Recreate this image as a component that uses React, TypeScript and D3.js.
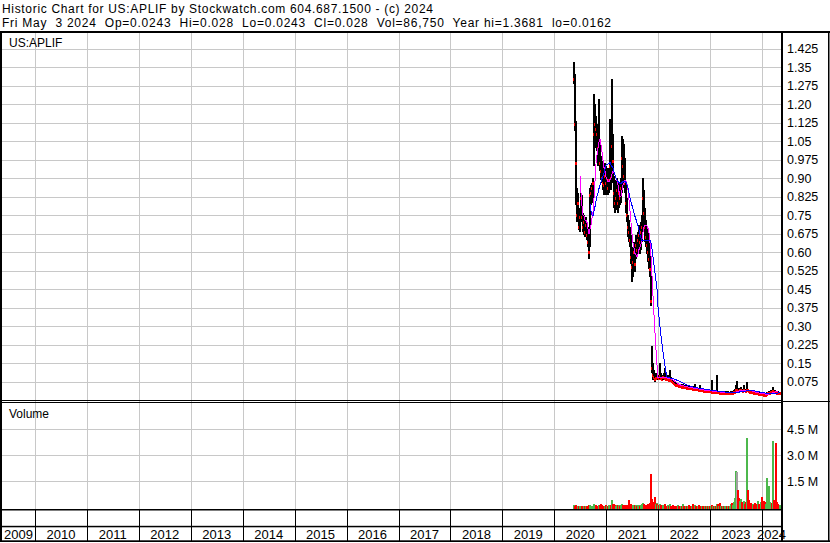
import React from 'react';
import * as d3 from 'd3';

// weekly bars, the first one is the week of May 11 2020
const firstWeek = new Date(2020, 4, 11);

const closes = [
  1.30, 1.12, 0.96, 0.75, 0.80, 0.70, 0.74, 0.82, 0.74, 0.70,
  0.72, 0.68, 0.71, 0.67, 0.64, 0.60, 0.83, 0.84, 0.86, 0.88,
  1.08, 1.12, 1.10, 1.08, 1.02, 1.04, 0.96, 0.93, 0.90, 0.88,
  0.87, 0.91, 0.88, 0.90, 0.86, 0.89, 0.95, 0.90, 1.03, 0.97,
  0.84, 0.80, 0.82, 0.85, 0.80, 0.84, 0.82, 0.86, 0.98, 0.95,
  0.91, 0.88, 0.80, 0.75, 0.70, 0.68, 0.65, 0.58, 0.54, 0.56,
  0.60, 0.55, 0.63, 0.61, 0.65, 0.67, 0.64, 0.68, 0.70, 0.82,
  0.76, 0.70, 0.66, 0.63, 0.60, 0.57, 0.53, 0.40, 0.13, 0.10,
  0.092, 0.085, 0.090, 0.095, 0.088, 0.092, 0.090, 0.096, 0.090, 0.087,
  0.092, 0.094, 0.090, 0.086, 0.085, 0.088, 0.082, 0.085, 0.080, 0.076,
  0.072, 0.068, 0.066, 0.062, 0.060, 0.061, 0.058, 0.056, 0.057, 0.054,
  0.056, 0.053, 0.052, 0.054, 0.050, 0.051, 0.050, 0.048, 0.047, 0.048,
  0.046, 0.045, 0.047, 0.044, 0.043, 0.044, 0.042, 0.041, 0.040, 0.041,
  0.039, 0.038, 0.039, 0.037, 0.038, 0.036, 0.037, 0.035, 0.036, 0.034,
  0.035, 0.033, 0.034, 0.032, 0.033, 0.031, 0.032, 0.030, 0.031, 0.029,
  0.030, 0.028, 0.029, 0.030, 0.028, 0.029, 0.027, 0.028, 0.030, 0.029,
  0.030, 0.032, 0.034, 0.042, 0.042, 0.040, 0.038, 0.040, 0.041, 0.039,
  0.038, 0.040, 0.039, 0.037, 0.042, 0.039, 0.036, 0.034, 0.033, 0.031,
  0.032, 0.030, 0.029, 0.028, 0.027, 0.028, 0.026, 0.025, 0.026, 0.024,
  0.023, 0.022, 0.021, 0.022, 0.025, 0.027, 0.029, 0.030, 0.032, 0.031,
  0.036, 0.035, 0.034, 0.031, 0.030, 0.029, 0.027, 0.028,
];

const highs = [
  1.37, 1.32, 1.13, 0.86, 0.84, 0.78, 0.77, 0.84, 0.83, 0.76,
  0.75, 0.74, 0.74, 0.72, 0.70, 0.66, 0.86, 0.87, 0.88, 0.90,
  1.24, 1.20, 1.15, 1.12, 1.10, 1.22, 1.05, 0.99, 0.97, 0.95,
  0.93, 0.96, 0.95, 0.94, 0.93, 0.94, 1.14, 1.02, 1.30, 1.08,
  0.91, 0.89, 0.88, 0.90, 0.88, 0.88, 0.87, 0.90, 1.07, 1.06,
  1.04, 0.98, 0.88, 0.82, 0.75, 0.73, 0.70, 0.67, 0.62, 0.60,
  0.64, 0.62, 0.67, 0.66, 0.68, 0.71, 0.70, 0.72, 0.75, 0.90,
  0.85, 0.78, 0.73, 0.70, 0.68, 0.67, 0.62, 0.52, 0.22, 0.15,
  0.12, 0.11, 0.10, 0.11, 0.10, 0.10, 0.10, 0.15, 0.11, 0.10,
  0.10, 0.11, 0.13, 0.10, 0.095, 0.10, 0.095, 0.12, 0.092, 0.088,
  0.082, 0.078, 0.075, 0.070, 0.068, 0.068, 0.066, 0.064, 0.064, 0.062,
  0.066, 0.060, 0.058, 0.060, 0.056, 0.057, 0.056, 0.054, 0.053, 0.054,
  0.052, 0.056, 0.066, 0.050, 0.049, 0.050, 0.048, 0.062, 0.046, 0.047,
  0.045, 0.044, 0.045, 0.043, 0.044, 0.042, 0.043, 0.041, 0.042, 0.080,
  0.041, 0.039, 0.040, 0.038, 0.100, 0.037, 0.038, 0.036, 0.037, 0.035,
  0.036, 0.034, 0.035, 0.036, 0.034, 0.035, 0.033, 0.034, 0.036, 0.035,
  0.036, 0.040, 0.045, 0.060, 0.078, 0.050, 0.046, 0.048, 0.052, 0.046,
  0.045, 0.060, 0.046, 0.044, 0.072, 0.046, 0.042, 0.040, 0.039, 0.037,
  0.038, 0.036, 0.035, 0.034, 0.033, 0.034, 0.032, 0.031, 0.032, 0.030,
  0.029, 0.028, 0.027, 0.028, 0.032, 0.034, 0.036, 0.037, 0.040, 0.038,
  0.054, 0.042, 0.041, 0.038, 0.036, 0.035, 0.033, 0.030,
];

const lows = [
  1.28, 1.09, 0.79, 0.72, 0.73, 0.69, 0.68, 0.73, 0.72, 0.68,
  0.67, 0.66, 0.67, 0.65, 0.62, 0.57, 0.62, 0.79, 0.80, 0.82,
  0.95, 1.02, 1.02, 1.01, 0.95, 0.97, 0.93, 0.89, 0.88, 0.85,
  0.83, 0.84, 0.83, 0.85, 0.83, 0.84, 0.86, 0.85, 0.88, 0.90,
  0.78, 0.76, 0.77, 0.78, 0.76, 0.78, 0.79, 0.80, 0.84, 0.88,
  0.86, 0.84, 0.76, 0.72, 0.66, 0.64, 0.62, 0.55, 0.48, 0.50,
  0.53, 0.52, 0.57, 0.58, 0.59, 0.60, 0.59, 0.61, 0.64, 0.68,
  0.70, 0.64, 0.62, 0.59, 0.56, 0.53, 0.50, 0.38, 0.11, 0.08,
  0.080, 0.075, 0.080, 0.082, 0.080, 0.082, 0.080, 0.085, 0.083, 0.080,
  0.082, 0.085, 0.082, 0.080, 0.078, 0.080, 0.076, 0.078, 0.074, 0.070,
  0.066, 0.062, 0.060, 0.057, 0.055, 0.055, 0.053, 0.051, 0.052, 0.050,
  0.050, 0.048, 0.047, 0.049, 0.046, 0.046, 0.045, 0.044, 0.043, 0.043,
  0.042, 0.041, 0.042, 0.040, 0.039, 0.040, 0.038, 0.037, 0.036, 0.036,
  0.035, 0.034, 0.034, 0.033, 0.033, 0.032, 0.033, 0.031, 0.032, 0.030,
  0.031, 0.029, 0.030, 0.028, 0.029, 0.027, 0.028, 0.026, 0.027, 0.025,
  0.026, 0.024, 0.025, 0.026, 0.024, 0.025, 0.023, 0.024, 0.026, 0.025,
  0.026, 0.028, 0.030, 0.035, 0.036, 0.035, 0.033, 0.035, 0.036, 0.034,
  0.033, 0.035, 0.034, 0.032, 0.036, 0.034, 0.031, 0.030, 0.029, 0.027,
  0.028, 0.026, 0.025, 0.024, 0.023, 0.024, 0.022, 0.021, 0.022, 0.020,
  0.019, 0.018, 0.0162, 0.018, 0.020, 0.022, 0.024, 0.025, 0.027, 0.026,
  0.030, 0.030, 0.029, 0.027, 0.026, 0.025, 0.024, 0.0243,
];

// thousands of shares
const volumes = [
  90, 60, 120, 70, 50, 80, 40, 60, 45, 70,
  40, 55, 35, 60, 50, 90, 110, 70, 60, 80,
  150, 120, 90, 70, 80, 130, 90, 180, 100, 70,
  60, 80, 90, 70, 60, 120, 140, 110, 400, 150,
  160, 90, 80, 120, 100, 90, 70, 130, 180, 140,
  110, 90, 120, 100, 140, 400, 130, 160, 120, 90,
  80, 100, 140, 70, 90, 110, 80, 130, 200, 220,
  160, 120, 100, 140, 180, 200, 250, 1900, 450, 300,
  200, 600, 180, 220, 150, 120, 90, 200, 110, 80,
  100, 130, 180, 70, 60, 90, 80, 150, 70, 60,
  90, 80, 60, 70, 50, 90, 60, 50, 70, 60,
  150, 60, 50, 80, 40, 60, 100, 50, 40, 60,
  200, 60, 120, 50, 40, 70, 90, 60, 40, 50,
  60, 40, 50, 70, 40, 60, 50, 40, 60, 120,
  50, 40, 60, 40, 150, 200, 50, 220, 60, 40,
  50, 40, 60, 50, 40, 80, 50, 60, 150, 250,
  120, 300, 500, 2100, 2000, 1000, 500, 350, 450, 300,
  250, 350, 200, 300, 4000, 1000, 400, 200, 250, 150,
  200, 120, 250, 150, 100, 350, 200, 150, 300, 600,
  250, 350, 300, 150, 1700, 450, 1200, 300, 200, 250,
  3800, 400, 250, 3700, 300, 150, 100, 87,
];

const priceTicks = [
  '1.425', '1.35', '1.275', '1.20', '1.125', '1.05', '0.975', '0.90', '0.825', '0.75',
  '0.675', '0.60', '0.525', '0.45', '0.375', '0.30', '0.225', '0.15', '0.075',
];
const volumeTicks = ['1.5 M', '3.0 M', '4.5 M'];
const years = [2009, 2010, 2011, 2012, 2013, 2014, 2015, 2016, 2017, 2018, 2019, 2020, 2021, 2022, 2023, 2024];

const header1 = 'Historic Chart for US:APLIF by Stockwatch.com 604.687.1500 - (c) 2024';
const header2 = 'Fri May  3 2024  Op=0.0243  Hi=0.028  Lo=0.0243  Cl=0.028  Vol=86,750  Year hi=1.3681  lo=0.0162';

const W = 830;
const H = 543;
const plotLeft = 2;
const plotRight = 781;
const topLine = 31;
const priceBottom = 400;
const volBottom = 509;
const font = '"Liberation Sans", Arial, sans-serif';
const grid = '#c8c8c8';

function sma(values, n) {
  return values.map((_, i) => (i < n - 1 ? null : d3.mean(values.slice(i - n + 1, i + 1))));
}

export default function App() {
  const x = d3.scaleTime().domain([new Date(2010, 0, 1), new Date(2024, 0, 1)]).range([35, 762]);
  const y = d3.scaleLinear().domain([0, 1.484]).range([priceBottom, 34]);
  const yVol = d3.scaleLinear().domain([0, 6000]).range([507, 403]);

  const bx = closes.map((_, i) => Math.round(x(d3.timeDay.offset(firstWeek, i * 7))));
  const lastX = bx[bx.length - 1];

  const fast = sma(closes, 7);
  const slow = sma(closes, 17);
  const line = d3
    .line<[number, number | null]>()
    .defined((d) => d[1] != null)
    .x((d) => d[0])
    .y((d) => y(d[1] as number));
  const fastPath = line(fast.map((v, i) => [bx[i] + 1, v]));
  const slowPath = line(slow.map((v, i) => [bx[i] + 1, v]));

  const yearX = years.map((yr) => x(new Date(yr, 0, 1)));
  const boundaries = yearX.filter((v) => v > plotLeft);

  const volColor = (i) => {
    if (i === 0 || closes[i] > closes[i - 1]) return '#4cb84c';
    if (closes[i] < closes[i - 1]) return '#ff0000';
    return '#a0a0a0';
  };

  return (
    <svg width={W} height={H} style={{ position: 'absolute', left: 0, top: 0, background: '#fff' }} fontFamily={font}>
      <rect width={W} height={H} fill="#fff" />

      <text x={2} y={12.5} fontSize={12} textLength={431} lengthAdjust="spacing">{header1}</text>
      <text x={2} y={27} fontSize={12} textLength={609} lengthAdjust="spacing" style={{ whiteSpace: 'pre' }}>{header2}</text>

      {/* grid */}
      {boundaries.map((bxv, i) => (
        <line key={'vg' + i} x1={Math.round(bxv) + 0.5} x2={Math.round(bxv) + 0.5} y1={topLine} y2={volBottom} stroke={grid} />
      ))}
      {priceTicks.map((t) => (
        <line key={'pg' + t} x1={plotLeft} x2={plotRight} y1={Math.round(y(+t)) + 0.5} y2={Math.round(y(+t)) + 0.5} stroke={grid} />
      ))}
      {volumeTicks.map((t) => (
        <line key={'vgl' + t} x1={plotLeft} x2={plotRight} y1={Math.round(yVol(parseFloat(t) * 1000)) + 0.5} y2={Math.round(yVol(parseFloat(t) * 1000)) + 0.5} stroke={grid} />
      ))}

      <text x={9} y={46.5} fontSize={12}>US:APLIF</text>
      <text x={9} y={418} fontSize={12}>Volume</text>

      {/* price bars with red close ticks */}
      {closes.map((c, i) => {
        const top = Math.round(y(highs[i]));
        const bot = Math.round(y(lows[i]));
        return (
          <g key={'b' + i}>
            <rect x={bx[i]} y={top} width={2} height={Math.max(1, bot - top)} fill="#000" />
            <rect x={bx[i]} y={Math.round(y(c)) - 1} width={2} height={3} fill="#ff0000" />
          </g>
        );
      })}
      <path d={fastPath} fill="none" stroke="#ff00ff" strokeWidth={1} shapeRendering="crispEdges" />
      <path d={slowPath} fill="none" stroke="#0000ff" strokeWidth={1} shapeRendering="crispEdges" />

      {/* volume */}
      {volumes.map((v, i) => (
        <rect key={'v' + i} x={bx[i]} y={Math.round(yVol(v))} width={2} height={volBottom - Math.round(yVol(v))} fill={volColor(i)} />
      ))}

      {/* frame */}
      <rect x={0} y={topLine} width={W} height={2} fill="#000" />
      <rect x={0} y={topLine} width={2} height={541 - topLine} fill="#000" />
      <rect x={plotRight} y={topLine} width={2} height={541 - topLine} fill="#000" />
      <rect x={828} y={topLine} width={1.5} height={541 - topLine} fill="#000" />
      <rect x={0} y={priceBottom} width={plotRight} height={1} fill="#000" />
      <rect x={0} y={402} width={plotRight} height={1} fill="#000" />
      <rect x={plotRight} y={401} width={W - plotRight} height={1} fill="#000" />
      <rect x={0} y={volBottom} width={plotRight} height={1.5} fill="#000" />
      <rect x={0} y={525.8} width={plotRight} height={1.5} fill="#000" />
      <rect x={0} y={540.3} width={W} height={1.7} fill="#000" />
      {boundaries.map((bxv, i) => (
        <line key={'sep' + i} x1={Math.round(bxv) + 0.5} x2={Math.round(bxv) + 0.5} y1={volBottom} y2={541} stroke="#000" />
      ))}

      {/* axis labels */}
      {priceTicks.map((t) => (
        <text key={'pl' + t} x={787} y={y(+t) + 4.5} fontSize={12.5}>{t}</text>
      ))}
      {volumeTicks.map((t) => (
        <text key={'vl' + t} x={787} y={yVol(parseFloat(t) * 1000) + 4.5} fontSize={12.5}>{t}</text>
      ))}
      {years.map((yr, i) => {
        const a = Math.max(yearX[i], plotLeft);
        const b = i + 1 < years.length ? yearX[i + 1] : lastX + 2;
        return (
          <text key={'yr' + yr} x={(a + b) / 2} y={539} fontSize={13} textAnchor="middle">{yr}</text>
        );
      })}
    </svg>
  );
}
